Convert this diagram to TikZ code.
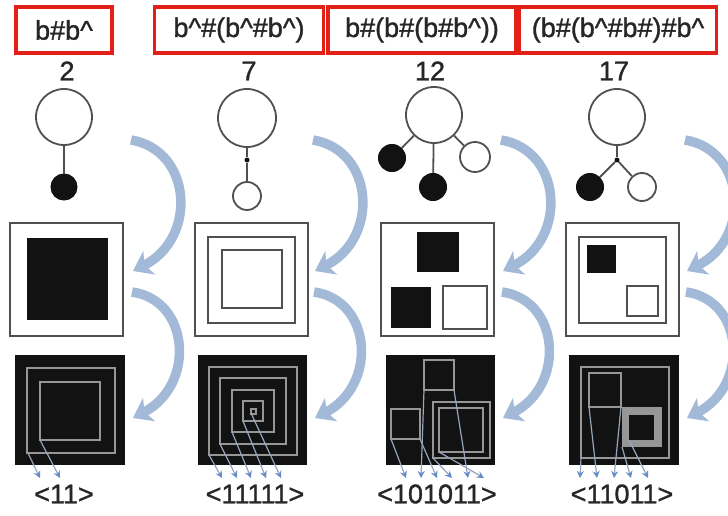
\documentclass[tikz,border=0pt]{standalone}
\usepackage{fontspec}
\setmainfont{Liberation Sans}
\newfontfamily\labelfont{Liberation Sans}[FakeBold=1.2]
\usetikzlibrary{arrows.meta}
\definecolor{boxred}{RGB}{226,32,24}
\definecolor{flowblue}{RGB}{163,185,216}
\definecolor{tipblue}{RGB}{100,140,200}
\definecolor{readgray}{RGB}{150,165,190}
\definecolor{edgegray}{RGB}{80,80,80}
\definecolor{ringgray}{RGB}{150,150,150}
\definecolor{inkblack}{RGB}{18,18,18}
\newcommand\caretc{\textasciicircum}

\begin{document}
\begin{tikzpicture}[x=1pt,y=-1pt,
  every node/.style={inner sep=0pt},
  txt/.style={font=\labelfont\fontsize{27}{30}\selectfont, text=black!85},
  headbox/.style={txt, draw=boxred, line width=3.5pt, minimum height=46pt},
  hollow/.style={circle, draw=edgegray, line width=1.8pt, fill=white},
  blackdot/.style={circle, fill=inkblack, draw=inkblack, line width=1pt},
  joint/.style={circle, fill=inkblack, minimum size=5pt},
  branch/.style={draw=edgegray, line width=1.8pt},
  outline/.style={draw=edgegray, line width=2.5pt},
  ring/.style={draw=ringgray, line width=2pt},
  flow/.style={draw=flowblue, line width=9.5pt, -{Stealth[length=18pt,width=26pt,inset=5pt]}},
  readout/.style={draw=readgray, line width=1.2pt, -{Stealth[length=7pt,width=7pt,color=tipblue]}},
]
\useasboundingbox (0,0) rectangle (728,516);
\fill[white] (0,0) rectangle (728,516);

% curved transition arrows: tree -> frame -> grid
\foreach \dx [count=\k] in {0,182,370,554} {
  \coordinate (ta\k) at ({131+\dx},140);
  \coordinate (ma\k) at ({133+\dx},271);
  \coordinate (mb\k) at ({132+\dx},292);
  \coordinate (ba\k) at ({133+\dx},418);
  \draw[flow] (ta\k) .. controls +(61,10) and +(65,-33) .. (ma\k);
  \draw[flow] (mb\k) .. controls +(58,8) and +(63,-33) .. (ba\k);
}

% expression headers
\node[headbox, minimum width=96pt]  (h1) at (64,30)    {b\#b\caretc};
\node[headbox, minimum width=169pt] (h2) at (239,30)   {b\caretc\#(b\caretc\#b\caretc)};
\node[headbox, minimum width=188pt] (h3) at (422,30)   {b\#(b\#(b\#b\caretc))};
\node[headbox, minimum width=197pt] (h4) at (618,30)   {(b\#(b\caretc\#b\#)\#b\caretc};

% indices
\node[txt] (n1) at (67,71)  {2};
\node[txt] (n2) at (249,71) {7};
\node[txt] (n3) at (430,71) {12};
\node[txt] (n4) at (614,71) {17};

% trees
\node[hollow, minimum size=56pt] (r1) at (64,117) {};
\node[blackdot, minimum size=26pt] (c1) at (64,187) {};
\draw[branch] (r1) -- (c1);

\node[hollow, minimum size=58pt] (r2) at (247,118) {};
\node[joint] (j2) at (247,160) {};
\node[hollow, minimum size=28pt] (c2) at (247,196) {};
\draw[branch] (r2) -- (j2) -- (c2);

\node[hollow, minimum size=56pt] (r3) at (434,115) {};
\node[blackdot, minimum size=27pt] (a3) at (392,158) {};
\node[blackdot, minimum size=27pt] (b3) at (433,187) {};
\node[hollow, minimum size=30pt] (c3) at (475,157) {};
\draw[branch] (r3) -- (a3);
\draw[branch] (r3) -- (b3);
\draw[branch] (r3) -- (c3);

\node[hollow, minimum size=56pt] (r4) at (617,117) {};
\node[joint] (j4) at (617,160) {};
\node[blackdot, minimum size=27pt] (a4) at (590,187) {};
\node[hollow, minimum size=28pt] (c4) at (642,187) {};
\draw[branch] (r4) -- (j4);
\draw[branch] (j4) -- (a4);
\draw[branch] (j4) -- (c4);

% nested frames
\draw[outline] (10,223) rectangle (123,336);
\fill[inkblack] (27,238) rectangle (108,320);

\draw[outline] (195,223) rectangle (308,336);
\draw[outline] (208,237) rectangle (295,323);
\draw[outline] (222,250) rectangle (282,308);

\draw[outline] (381,223) rectangle (494,336);
\fill[inkblack] (417,232) rectangle (459,272);
\fill[inkblack] (391,287) rectangle (431,328);
\draw[outline] (443,286) rectangle (487,329);

\draw[outline] (566,223) rectangle (679,336);
\draw[outline] (579,237) rectangle (666,323);
\fill[inkblack] (587,245) rectangle (616,273);
\draw[outline] (627,286) rectangle (658,316);

% rendered grids
\fill[inkblack] (15,355) rectangle (125,465);
\draw[ring] (27,368) rectangle (115,453);
\draw[ring] (40,382) rectangle (100,440);

\fill[inkblack] (198,355) rectangle (307,465);
\foreach \h in {44,33,21,10,2.5}
  \draw[ring] ({253-\h},{411-\h}) rectangle ({253+\h},{411+\h});

\fill[inkblack] (386,355) rectangle (495,465);
\draw[ring] (424,360) rectangle (454,390);
\draw[ring] (391,409) rectangle (420,439);
\draw[ring] (433,402) rectangle (490,458);
\draw[ring] (439,408) rectangle (483,452);

\fill[inkblack] (569,355) rectangle (679,465);
\draw[ring] (581,367) rectangle (669,458);
\draw[ring] (589,373) rectangle (621,407);
\fill[ringgray] (622,407) rectangle (662,447);
\fill[inkblack] (629,415) rectangle (654,440);

% read-out arrows
\foreach \sx/\sy/\tx [count=\i] in {28/453/40, 40/440/60} {
  \coordinate (sa\i) at (\sx,\sy); \coordinate (oa\i) at (\tx,478);
  \draw[readout] (sa\i) -- (oa\i);
}
\foreach \sx/\sy/\tx [count=\i] in {209/455/222, 220/444/237, 232/432/251, 243/421/266, 251/413/281} {
  \coordinate (sb\i) at (\sx,\sy); \coordinate (ob\i) at (\tx,478);
  \draw[readout] (sb\i) -- (ob\i);
}
\foreach \sx/\sy/\tx [count=\i] in {391/439/406, 424/390/421, 420/439/437, 433/458/452, 454/390/468, 439/452/484} {
  \coordinate (sc\i) at (\sx,\sy); \coordinate (oc\i) at (\tx,478);
  \draw[readout] (sc\i) -- (oc\i);
}
\foreach \sx/\sy/\tx [count=\i] in {581/458/580, 589/407/597, 621/407/614, 622/447/631, 629/440/648} {
  \coordinate (sd\i) at (\sx,\sy); \coordinate (od\i) at (\tx,478);
  \draw[readout] (sd\i) -- (od\i);
}

% codes
\node[txt] (k1) at (64,494)  {\textless 11\textgreater};
\node[txt] (k2) at (255,494) {\textless 11111\textgreater};
\node[txt] (k3) at (437,494) {\textless 101011\textgreater};
\node[txt] (k4) at (622,494) {\textless 11011\textgreater};
\end{tikzpicture}
\end{document}
